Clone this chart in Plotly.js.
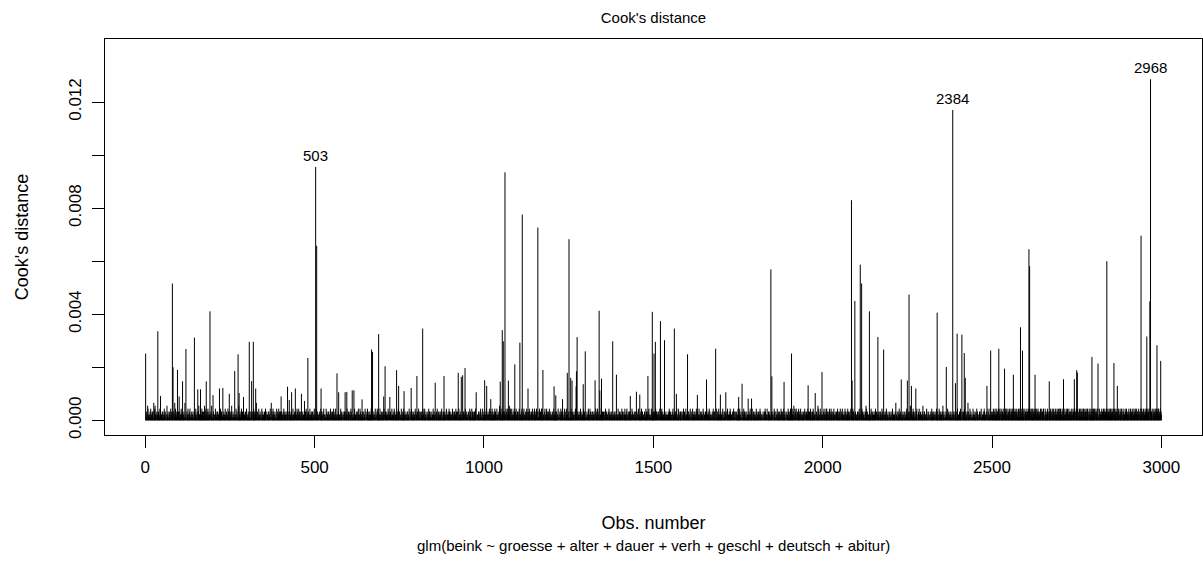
<!DOCTYPE html>
<html>
<head>
<meta charset="utf-8">
<script src="https://cdn.plot.ly/plotly-3.0.1.min.js"></script>
<style>
html,body{margin:0;padding:0;background:#ffffff;}
#chart{width:1203px;height:563px;}
</style>
</head>
<body>
<div id="chart"></div>
<script>
// ---- data ----
const nObs = 3000;

// visible spikes: observation number and Cook's distance
const spikeObs = [1,37,45,80,82,95,100,110,120,145,155,163,180,191,200,219,229,248,264,274,277,290,307,314,319,326,372,401,420,432,443,461,470,480,
  503,506,519,566,571,590,595,611,616,640,668,671,689,704,708,722,742,748,764,785,802,819,856,882,924,933,937,944,977,
  1002,1008,1020,1048,1054,1057,1062,1072,1091,1106,1113,1130,1159,1174,1207,1212,1232,1246,1251,1256,1260,1272,1273,1275,1293,1299,
  1328,1340,1342,1347,1380,1391,1432,1450,1460,1484,1497,1502,1506,1521,1533,1562,1568,1601,1630,1657,1684,1698,1714,1752,1762,1780,1790,
  1847,1850,1886,1908,1957,1978,1998,2085,2087,2095,2111,2115,2138,2163,2180,2232,2250,2255,2262,2275,2338,2365,2384,2392,2397,2411,2418,2421,
  2485,2496,2520,2537,2563,2584,2590,2609,2611,2627,2669,2711,2743,2750,2752,2795,2813,2839,2860,2870,2940,2957,2966,2968,2987,2998];
const spikeVal = [0.00252,0.00336,0.00092,0.00516,0.0020,0.0019,0.0009,0.00147,0.00269,0.00312,0.00117,0.00117,0.00147,0.00411,0.00095,0.0012,0.00122,0.0010,0.00186,0.00249,0.00103,0.00088,0.00296,0.00148,0.00296,0.0012,0.00066,0.0009,0.00127,0.00106,0.0012,0.0010,0.00073,0.00235,
  0.00955,0.00658,0.0012,0.00177,0.00106,0.00106,0.00107,0.00113,0.00113,0.00079,0.00267,0.00258,0.00325,0.0009,0.00204,0.00088,0.00189,0.0013,0.0011,0.00122,0.00167,0.00346,0.00142,0.00167,0.00179,0.00164,0.0017,0.00197,0.00106,
  0.00151,0.0013,0.0008,0.00146,0.0034,0.00298,0.00935,0.0015,0.00211,0.00293,0.00776,0.0012,0.00727,0.0019,0.00128,0.00094,0.0008,0.00179,0.00683,0.0016,0.0015,0.00128,0.00185,0.00314,0.00136,0.0026,
  0.00151,0.00413,0.00113,0.00157,0.00298,0.00172,0.00092,0.00108,0.00097,0.00167,0.00409,0.00252,0.00296,0.00374,0.00302,0.00346,0.0010,0.00249,0.00096,0.00154,0.0027,0.00097,0.00106,0.00088,0.00138,0.00082,0.00082,
  0.00569,0.00166,0.00145,0.00252,0.00132,0.00103,0.00182,0.0083,0.0015,0.0045,0.00587,0.00516,0.00411,0.00314,0.00267,0.00154,0.0015,0.00474,0.0013,0.0012,0.00406,0.00201,0.0117,0.0014,0.00327,0.00323,0.00254,0.0016,
  0.0013,0.00263,0.0027,0.00195,0.00172,0.00351,0.00263,0.00645,0.00581,0.00172,0.00147,0.00155,0.00155,0.00189,0.0018,0.00239,0.00214,0.006,0.00216,0.0013,0.00696,0.00316,0.00449,0.01286,0.00283,0.00224];

// dense low band, one digit per observation (1..3000), digit = multiples of bandUnit
const bandUnit = 0.00011;
const bandRows = [
 "2131205412 1023140213 2310613452 1203121031 2140312203 1321042130 2015213102 3120413021 1203216041 2130120312",
 "1302142031 2213016203 1032142103 2410213021 3102130241 1230213502 2103124031 1320513140 2031421302 1203152103",
 "3120214031 2031021302 1421302130 2302141203 1024130213 2130521031 2013021402 3102150213 1204213021 3120130241",
 "2103124130 1302130214 2130213601 3021402130 2104213021 1320413021 2031302140 1203214031 2130120413 1024132031",
 "1320213041 2302130214 1203713021 3102140213 2013021430 1240312031 3021302104 2130413021 1302140213 2031302140",
 "2130421302 1203021413 3021304120 2104130213 1320214031 2031240213 1402130213 3120214032 2013021304 1302140213",
 "1203214302 3102130421 2130230142 1024130213 2301302140 1302140213 2130214032 3021302140 1203421302 2140213021",
 "3021402130 1230214031 2103021402 1320413021 2013024130 3102140213 1240213021 2031302140 1302140213 2130214031",
 "2103024130 1302130214 2031402130 1203214031 3120130214 2031240213 1402130213 2130421031 3021302140 1203214302",
 "1320214031 2031024130 1302140213 2130214032 3021402130 1203021413 2104130213 1320413021 2013021304 3102140213",
 "2131204302 1320241302 3124130213 2413021402 1302154130 2140312302 3120413024 2130521403 1402130243 2130412031",
 "3024130213 1402130421 2130241302 1324130213 2041302143 3120413021 1304213024 2413021304 1203421302 3140213021",
 "1302140213 2031302140 1203214031 2130120413 1024132031 2103124130 1302130214 2130213021 3021402130 2104213021",
 "2013021430 1240312031 3021302104 2130413021 1302140213 2031302140 1320213041 2302130214 1203213021 3102140213",
 "1320214031 2031240213 1402130213 3120214032 2013021304 1302140213 2130421302 1203021413 3021304120 2104130213",
 "2130214032 3021302140 1203421302 2140213021 1203214302 3102130421 2130230142 1024130213 2301302140 1302140213",
 "2031302140 1302140213 2130214031 3021402130 1230214031 2103021402 1320413021 2013024130 3102140213 1240213021",
 "2130421031 3021302140 1203214302 2103024130 1302130214 2031402130 1203214031 3120130214 2031240213 1402130213",
 "2104130213 1320413021 2013021304 3102140213 1320214031 2031024130 1302140213 2130214032 3021402130 1203021413",
 "3120413024 2130521403 1402130243 2130412031 2131204302 1320241302 3124130213 2413021402 1302154130 2140312302",
 "1304213024 2413021304 1203421302 3140213021 3024130213 1402130421 2130241302 1324130213 2041302143 3120413021",
 "2131302412 1023140312 2310213542 1302121031 2140312302 1321042031 2013213012 3120413201 1203213401 2130120321",
 "1302143021 2213061203 1032142013 2410213201 3102130421 1230213052 2103124301 1320213410 2031421032 1203152013",
 "3120214301 2031021032 1421302310 2302141023 1024130231 2130521301 2013021042 3102130231 1204213201 3120130421",
 "2103124310 1302130241 2130213061 3021402310 2104213201 1320413201 2031302410 1203214301 2130120431 1024132301",
 "2314203142 1324130243 2143024132 3142031243 2413024132 1432041324 2314032413 3240132413 1423041324 2413204132",
 "3241302413 2413042314 1324132403 2413241302 3142304132 2431024132 1324130243 3241302413 2413024132 1432041324",
 "2413204132 3142031243 2143024132 1324130243 2314203142 3240132413 1423041324 2314032413 2413024132 1432041324",
 "3142304132 2431024132 1324130243 3241302413 2413042314 1324132403 2413241302 3241302413 2413024132 2143024132",
 "2314203142 1324130243 2143024132 3142031243 2413024132 1432041324 2314032413 3240132413 1423041324 2413204132"
];

// labelled observations
const labelObs = [503, 2384, 2968];

// axis ticks
const xTickVals = [0, 500, 1000, 1500, 2000, 2500, 3000];
const xTickText = ["0", "500", "1000", "1500", "2000", "2500", "3000"];
const yTickVals = [0, 0.002, 0.004, 0.006, 0.008, 0.010, 0.012];
const yTickText = ["0.000", "", "0.004", "", "0.008", "", "0.012"];

// texts
const titleText = "Cook's distance";
const xTitle = "Obs. number";
const yTitle = "Cook's distance";
const subCaption = "glm(beink ~ groesse + alter + dauer + verh + geschl + deutsch + abitur)";

// ---- build the series ----
const bandDigits = bandRows.join("").replace(/\s/g, "");
const cook = [];
for (let i = 0; i < nObs; i++) {
  const d = i < bandDigits.length ? parseInt(bandDigits[i], 10) : 0;
  cook.push(d * bandUnit);
}
spikeObs.forEach((o, k) => { cook[o - 1] = spikeVal[k]; });

const xs = [], ys = [];
for (let i = 0; i < nObs; i++) {
  xs.push(i + 1, i + 1, null);
  ys.push(0, cook[i], null);
}

const trace = {
  type: "scatter", mode: "lines", x: xs, y: ys,
  line: {color: "#000000", width: 1},
  hoverinfo: "skip", showlegend: false
};

const ymax = Math.max(...cook);
const ylim = ymax * 1.075;
const xr = [1 - 0.04 * (nObs - 1), nObs + 0.04 * (nObs - 1)];
const yr = [-0.04 * ylim, ylim * 1.04];

const font = "Liberation Sans, Arial, Helvetica, sans-serif";

const annotations = labelObs.map(o => ({
  x: o, y: cook[o - 1], xref: "x", yref: "y",
  text: String(o), showarrow: false, yanchor: "bottom", xanchor: "center",
  yshift: 1, font: {family: font, size: 15, color: "#000000"}
}));
annotations.push({
  text: subCaption, xref: "paper", yref: "paper", x: 0.5, y: -0.28,
  xanchor: "center", yanchor: "middle", showarrow: false,
  font: {family: font, size: 15, color: "#000000"}
});

const layout = {
  width: 1203, height: 563,
  margin: {l: 105, r: 1, t: 39, b: 128, pad: 0},
  paper_bgcolor: "#ffffff", plot_bgcolor: "#ffffff",
  font: {family: font, size: 17, color: "#000000"},
  showlegend: false,
  title: {text: titleText, font: {family: font, size: 15, color: "#000000"},
          xref: "paper", x: 0.5, xanchor: "center", yref: "container", y: 0.968, yanchor: "middle"},
  xaxis: {
    range: xr, tickmode: "array", tickvals: xTickVals, ticktext: xTickText,
    ticks: "outside", ticklen: 12, tickwidth: 1, tickcolor: "#000000", ticklabelstandoff: 5,
    showline: true, mirror: true, linecolor: "#000000", linewidth: 1,
    showgrid: false, zeroline: false, automargin: false,
    tickfont: {family: font, size: 17, color: "#000000"},
    title: {text: xTitle, standoff: 39, font: {family: font, size: 18, color: "#000000"}}
  },
  yaxis: {
    range: yr, tickmode: "array", tickvals: yTickVals, ticktext: yTickText,
    ticks: "outside", ticklen: 12, tickwidth: 1, tickcolor: "#000000", tickangle: -90, ticklabelstandoff: 4,
    showline: true, mirror: true, linecolor: "#000000", linewidth: 1,
    showgrid: false, zeroline: false, automargin: false,
    tickfont: {family: font, size: 17, color: "#000000"},
    title: {text: yTitle, standoff: 32, font: {family: font, size: 18, color: "#000000"}}
  },
  annotations: annotations
};

Plotly.newPlot("chart", [trace], layout, {staticPlot: true, displayModeBar: false});
</script>
</body>
</html>
